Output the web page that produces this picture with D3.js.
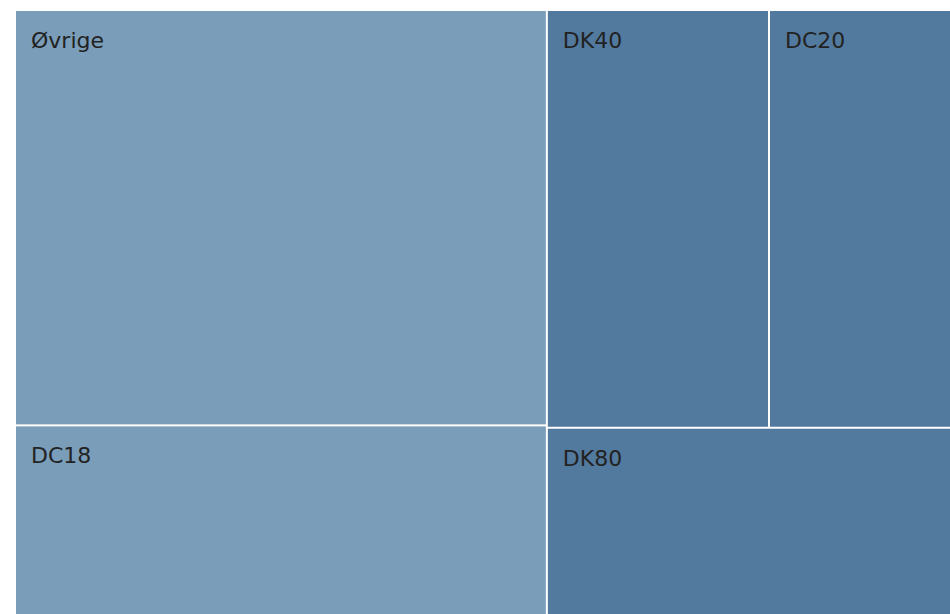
<!DOCTYPE html>
<html>
<head>
<meta charset="utf-8">
<script src="https://cdn.jsdelivr.net/npm/d3@7"></script>
<style>
  html, body { margin: 0; padding: 0; background: #ffffff; overflow: hidden; }
  svg { display: block; }
</style>
</head>
<body>
<svg id="chart" width="950" height="614"></svg>
<script>
// Groups and their members (share, %), kept in data order
const groups = ["A", "B"];
const groupColors = ["#7a9db9", "#527a9f"];
const groupA = ["Øvrige", "DC18"];
const valuesA = [38.8, 17.9];
const groupB = ["DK40", "DC20", "DK80"];
const valuesB = [16.3, 13.5, 13.5];

const data = {
  name: "root",
  children: [
    { name: groups[0], children: groupA.map((n, i) => ({ name: n, value: valuesA[i] })) },
    { name: groups[1], children: groupB.map((n, i) => ({ name: n, value: valuesB[i] })) }
  ]
};

const svg = d3.select("#chart");
const color = d3.scaleOrdinal().domain(groups).range(groupColors);

const root = d3.hierarchy(data).sum(d => d.value || 0);

d3.treemap()
  .tile(d3.treemapSquarify)
  .size([936, 605])
  .paddingInner(2)
  (root);

const plot = svg.append("g").attr("transform", "translate(16,11)");

const leaves = plot.selectAll("g.leaf")
  .data(root.leaves())
  .join("g")
  .attr("class", "leaf");

leaves.append("rect")
  .attr("x", d => d.x0)
  .attr("y", d => d.y0)
  .attr("width", d => d.x1 - d.x0)
  .attr("height", d => d.y1 - d.y0)
  .attr("fill", d => color(d.parent.data.name));

leaves.append("text")
  .attr("x", d => d.x0 + 15)
  .attr("y", d => d.y0 + 37)
  .attr("font-family", "'DejaVu Sans', Verdana, sans-serif")
  .attr("font-size", 22)
  .attr("fill", "#222222")
  .text(d => d.data.name);
</script>
</body>
</html>
